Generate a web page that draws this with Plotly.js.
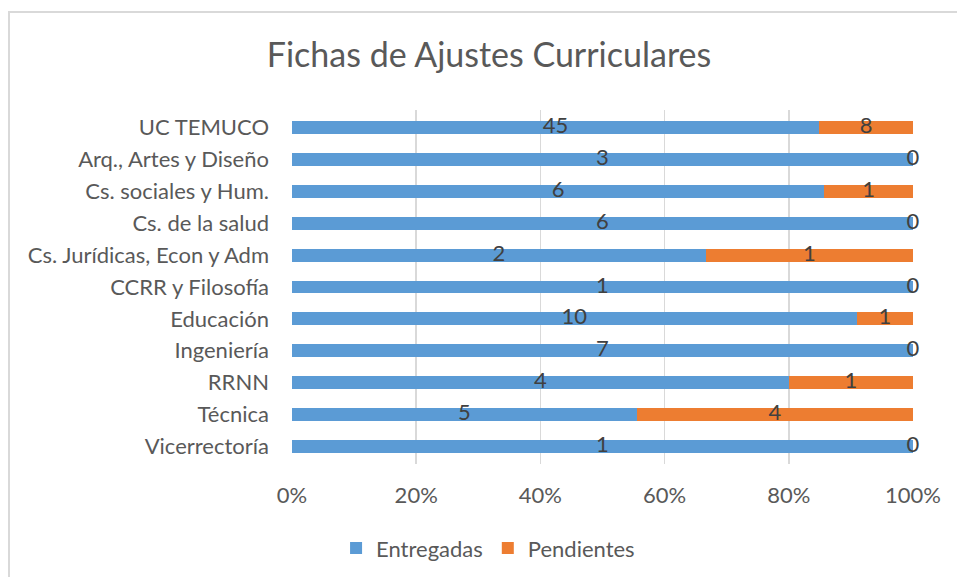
<!DOCTYPE html>
<html>
<head>
<meta charset="utf-8">
<script src="https://cdn.plot.ly/plotly-3.0.1.min.js"></script>
<style>
  body { margin: 0; background: white; }
  #frame { position: absolute; left: 8px; top: 11px; width: 970px; height: 590px; border: 2px solid #d9d9d9; }
  #chart { position: absolute; left: 0; top: 0; width: 957px; height: 577px; }
</style>
</head>
<body>
<div id="frame"></div>
<div id="chart"></div>
<script>
// Categories (bottom to top, as plotted)
let areas = [
  "Vicerrectoría",
  "Técnica",
  "RRNN",
  "Ingeniería",
  "Educación",
  "CCRR y Filosofía",
  "Cs. Jurídicas, Econ y Adm",
  "Cs. de la salud",
  "Cs. sociales y Hum.",
  "Arq., Artes y Diseño",
  "UC TEMUCO"
];

// Counts per area
let entregadas = [1, 5, 4, 7, 10, 1, 2, 6, 6, 3, 45];
let pendientes = [0, 4, 1, 0, 1, 0, 1, 0, 1, 0, 8];

// Axis ticks
let xTicks = [0, 20, 40, 60, 80, 100];
let xTickText = ["0%", "20%", "40%", "60%", "80%", "100%"];

let blue = "#5b9bd5";
let orange = "#ed7d31";
let fontFam = "Lato, 'Open Sans', sans-serif";
let labelFont = { family: fontFam, size: 22, color: "#404040" };

// Share of each row in percent
let totals = entregadas.map((v, i) => v + pendientes[i]);
let pctEnt = entregadas.map((v, i) => 100 * v / totals[i]);
let pctPen = pendientes.map((v, i) => 100 * v / totals[i]);

let entTrace = {
  type: "bar",
  orientation: "h",
  name: "Entregadas",
  y: areas,
  x: pctEnt,
  marker: { color: blue },
  hoverinfo: "none"
};

let penTrace = {
  type: "bar",
  orientation: "h",
  name: "Pendientes",
  y: areas,
  x: pctPen,
  marker: { color: orange },
  hoverinfo: "none"
};

// Data labels, centred on each segment
let entLabels = {
  type: "scatter",
  mode: "text",
  y: areas,
  x: pctEnt.map(p => p / 2),
  text: entregadas.map(String),
  textfont: labelFont,
  cliponaxis: false,
  showlegend: false,
  hoverinfo: "none"
};

let penLabels = {
  type: "scatter",
  mode: "text",
  y: areas,
  x: pctEnt.map((p, i) => p + pctPen[i] / 2),
  text: pendientes.map(String),
  textfont: labelFont,
  cliponaxis: false,
  showlegend: false,
  hoverinfo: "none"
};

let layout = {
  width: 957,
  height: 577,
  margin: { l: 292, r: 44, t: 110, b: 113 },
  paper_bgcolor: "rgba(0,0,0,0)",
  plot_bgcolor: "rgba(0,0,0,0)",
  barmode: "stack",
  bargap: 0.6,
  font: { family: fontFam, color: "#595959" },
  title: {
    text: "Fichas de Ajustes Curriculares",
    font: { size: 34, color: "#595959" },
    xref: "container",
    x: 0.511,
    xanchor: "center",
    yref: "container",
    y: 0.905,
    yanchor: "middle"
  },
  xaxis: {
    range: [0, 100],
    tickvals: xTicks,
    ticktext: xTickText,
    showgrid: true,
    gridcolor: "#d9d9d9",
    gridwidth: 1.5,
    zeroline: false,
    showline: false,
    ticks: "",
    ticklabelstandoff: 16,
    tickfont: { size: 22, color: "#595959" }
  },
  yaxis: {
    type: "category",
    categoryorder: "array",
    categoryarray: areas,
    showgrid: false,
    zeroline: false,
    ticks: "",
    ticklabelstandoff: 22,
    tickfont: { size: 22, color: "#595959" }
  },
  legend: {
    orientation: "h",
    traceorder: "normal",
    xref: "container",
    x: 0.51,
    xanchor: "center",
    yref: "container",
    y: 0.05,
    yanchor: "middle",
    font: { size: 22, color: "#595959" },
    itemwidth: 30
  },
  showlegend: true
};

Plotly.newPlot("chart", [entTrace, penTrace, entLabels, penLabels], layout, { displayModeBar: false, staticPlot: true });
</script>
</body>
</html>
